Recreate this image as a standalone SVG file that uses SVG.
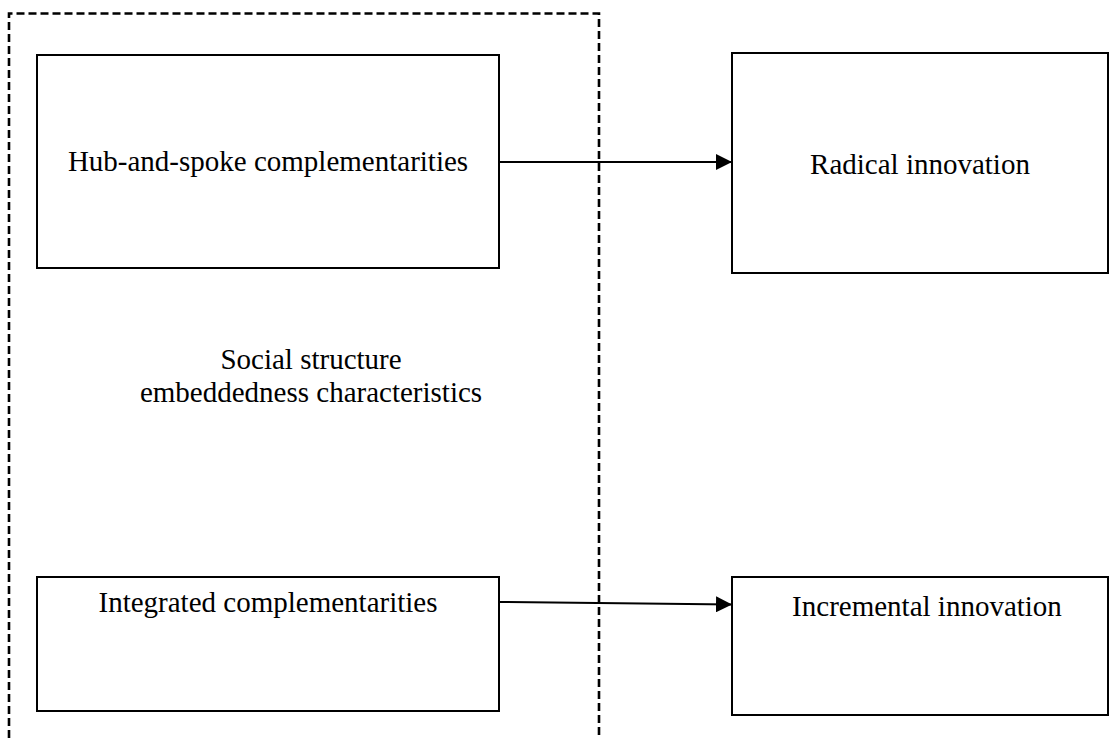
<svg xmlns="http://www.w3.org/2000/svg" width="1109" height="738" viewBox="0 0 1109 738">
  <style>
    .box { fill: #ffffff; stroke: #000000; stroke-width: 2; }
    .frame { fill: none; stroke: #000000; stroke-width: 2.6; stroke-dasharray: 8 4; }
    .edge { fill: none; stroke: #000000; stroke-width: 2; }
    .label { font-family: "Liberation Serif", "Times New Roman", serif; font-size: 29px; fill: #000000; text-anchor: middle; }
  </style>
  <defs>
    <marker id="arrow" viewBox="0 0 16 16" refX="16" refY="8" markerWidth="16" markerHeight="16" markerUnits="userSpaceOnUse" orient="auto">
      <path d="M0,0 L16,8 L0,16 Z" fill="#000000"/>
    </marker>
  </defs>
  <rect width="1109" height="738" fill="#ffffff"/>

  <!-- dashed grouping frame for the embeddedness characteristics -->
  <g id="embeddedness">
    <path class="frame" d="M9,738 V13.5 H599 V738"/>
    <text class="label" x="311" y="369">Social structure</text>
    <text class="label" x="311" y="402">embeddedness characteristics</text>
  </g>

  <g id="hub-and-spoke">
    <rect class="box" x="37" y="55" width="462" height="213"/>
    <text class="label" x="268" y="171">Hub-and-spoke complementarities</text>
  </g>

  <g id="integrated">
    <rect class="box" x="37" y="577" width="462" height="134"/>
    <text class="label" x="268" y="612">Integrated complementarities</text>
  </g>

  <g id="radical">
    <rect class="box" x="732" y="53" width="376" height="220"/>
    <text class="label" x="920" y="174">Radical innovation</text>
  </g>

  <g id="incremental">
    <rect class="box" x="732" y="577" width="376" height="138"/>
    <text class="label" x="927" y="616">Incremental innovation</text>
  </g>

  <g id="connectors">
    <line class="edge" x1="499" y1="162" x2="732" y2="162" marker-end="url(#arrow)"/>
    <line class="edge" x1="499" y1="602" x2="732" y2="604.5" marker-end="url(#arrow)"/>
  </g>
</svg>
